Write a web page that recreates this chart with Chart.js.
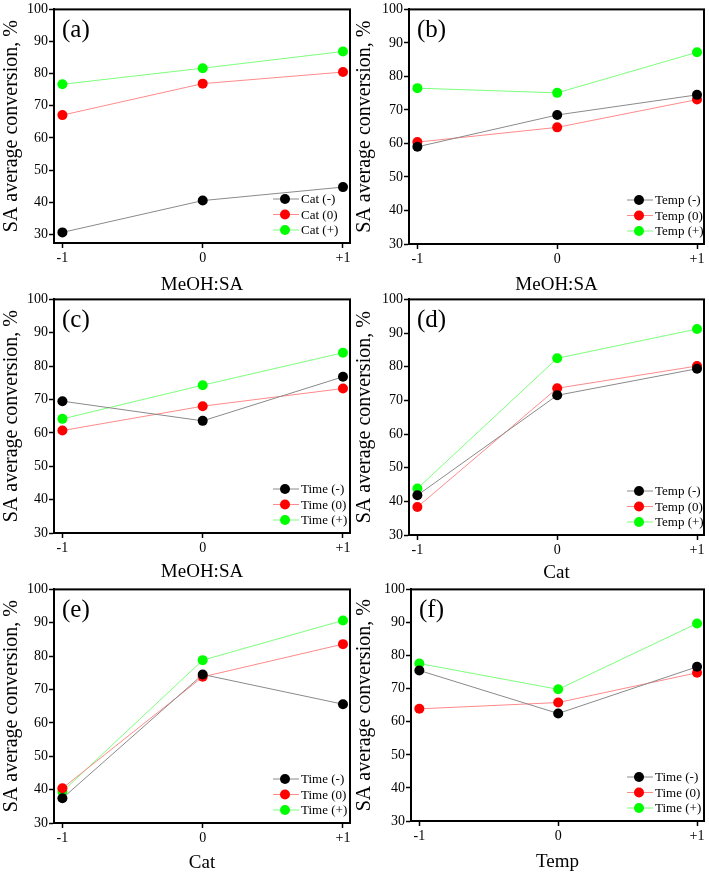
<!DOCTYPE html>
<html>
<head>
<meta charset="utf-8">
<script src="https://cdn.jsdelivr.net/npm/chart.js@4.4.1/dist/chart.umd.min.js"></script>
<style>
  html, body { margin: 0; padding: 0; background: #fff; }
  #page { position: relative; width: 709px; height: 874px; overflow: hidden; background: #fff; }
  #page canvas { position: absolute; }
</style>
</head>
<body>
<div id="page"></div>
<script>
// x levels and tick labels shared by all six panels
const xLevels = [-1, 0, 1];
const xTickLabels = ['-1', '0', '+1'];
const yTickValues = [30, 40, 50, 60, 70, 80, 90, 100];

// (a) MeOH:SA, grouped by Cat
const catMinusA = [30.6, 40.5, 44.7];
const catZeroA = [67.1, 76.9, 80.5];
const catPlusA = [76.7, 81.7, 86.9];

// (b) MeOH:SA, grouped by Temp
const tempMinusB = [59.0, 68.5, 74.5];
const tempZeroB = [60.4, 64.8, 73.1];
const tempPlusB = [76.5, 75.1, 87.2];

// (c) MeOH:SA, grouped by Time
const timeMinusC = [69.5, 63.6, 76.8];
const timeZeroC = [60.7, 68.0, 73.3];
const timePlusC = [64.2, 74.3, 84.0];

// (d) Cat, grouped by Temp
const tempMinusD = [41.8, 71.5, 79.4];
const tempZeroD = [38.3, 73.6, 80.2];
const tempPlusD = [43.8, 82.5, 91.2];

// (e) Cat, grouped by Time
const timeMinusE = [37.4, 74.5, 65.6];
const timeZeroE = [40.4, 73.8, 83.6];
const timePlusE = [39.4, 78.8, 90.7];

// (f) Temp, grouped by Time
const timeMinusF = [75.5, 62.5, 76.6];
const timeZeroF = [63.9, 65.8, 74.8];
const timePlusF = [77.6, 69.8, 89.7];

const SERIF = '"Liberation Serif", "Times New Roman", serif';
const MARK_COLORS = ['#000000', '#ff0000', '#00ff00'];
const LINE_COLORS = ['#8a8a8a', '#ff8a8a', '#7cff7c'];

// box of each panel in page pixels
const panels = [
  { tag: '(a)', xTitle: 'MeOH:SA', factor: 'Cat', series: [catMinusA, catZeroA, catPlusA],
    cx: 0, cy: 0, cw: 355, ch: 300, L: 54, T: 5, R: 352, B: 243, titleY: 285, yMin: 27.3, yPad: 2 },
  { tag: '(b)', xTitle: 'MeOH:SA', factor: 'Temp', series: [tempMinusB, tempZeroB, tempPlusB],
    cx: 355, cy: 0, cw: 354, ch: 300, L: 409, T: 7, R: 704, B: 244, titleY: 285, yMin: 30, yPad: 0 },
  { tag: '(c)', xTitle: 'MeOH:SA', factor: 'Time', series: [timeMinusC, timeZeroC, timePlusC],
    cx: 0, cy: 290, cw: 355, ch: 300, L: 54, T: 296, R: 352, B: 533, titleY: 572, yMin: 30, yPad: 2 },
  { tag: '(d)', xTitle: 'Cat', factor: 'Temp', series: [tempMinusD, tempZeroD, tempPlusD],
    cx: 355, cy: 290, cw: 354, ch: 300, L: 409, T: 297, R: 704, B: 535, titleY: 573, yMin: 30, yPad: 0 },
  { tag: '(e)', xTitle: 'Cat', factor: 'Time', series: [timeMinusE, timeZeroE, timePlusE],
    cx: 0, cy: 580, cw: 355, ch: 294, L: 54, T: 586, R: 352, B: 823, titleY: 863, yMin: 30, yPad: 2 },
  { tag: '(f)', xTitle: 'Temp', factor: 'Time', series: [timeMinusF, timeZeroF, timePlusF],
    cx: 355, cy: 580, cw: 354, ch: 294, L: 411, T: 586, R: 704, B: 821, titleY: 862, yMin: 30, yPad: 0 }
];

// closed box round the plot area
const framePlugin = {
  id: 'frame',
  afterDatasetsDraw(chart) {
    const a = chart.chartArea;
    const ctx = chart.ctx;
    ctx.save();
    ctx.strokeStyle = '#000';
    ctx.lineWidth = 2;
    ctx.strokeRect(a.left, a.top, a.right - a.left, a.bottom - a.top);
    ctx.restore();
  }
};

// legend in the lower right corner: line, dot, text
const insideLegend = {
  id: 'insideLegend',
  afterDraw(chart) {
    const a = chart.chartArea;
    const ctx = chart.ctx;
    const sets = chart.data.datasets;
    const x0 = a.right - 77;
    ctx.save();
    ctx.font = '13px ' + SERIF;
    ctx.textBaseline = 'middle';
    ctx.textAlign = 'left';
    sets.forEach(function (ds, i) {
      const y = a.bottom - 13 - (sets.length - 1 - i) * 15.5;
      ctx.strokeStyle = ds.borderColor;
      ctx.lineWidth = 1;
      ctx.beginPath();
      ctx.moveTo(x0, y);
      ctx.lineTo(x0 + 26, y);
      ctx.stroke();
      ctx.fillStyle = ds.pointBackgroundColor;
      ctx.beginPath();
      ctx.arc(x0 + 12, y, 5, 0, Math.PI * 2);
      ctx.fill();
      ctx.fillStyle = '#000';
      ctx.fillText(ds.label, x0 + 28, y + 1);
    });
    ctx.restore();
  }
};

// panel tag such as (a) in the top left corner
const panelTag = {
  id: 'panelTag',
  afterDraw(chart, args, opts) {
    const a = chart.chartArea;
    const ctx = chart.ctx;
    ctx.save();
    ctx.font = '25px ' + SERIF;
    ctx.fillStyle = '#000';
    ctx.textBaseline = 'middle';
    ctx.fillText(opts.text, a.left + 8, a.top + 21);
    ctx.restore();
  }
};

function buildPanel(p) {
  const canvas = document.createElement('canvas');
  canvas.width = p.cw;
  canvas.height = p.ch;
  canvas.style.left = p.cx + 'px';
  canvas.style.top = p.cy + 'px';
  document.getElementById('page').appendChild(canvas);

  const suffixes = [' (-)', ' (0)', ' (+)'];
  const datasets = p.series.map(function (values, i) {
    return {
      label: p.factor + suffixes[i],
      data: values.map(function (v, j) { return { x: xLevels[j], y: v }; }),
      borderColor: LINE_COLORS[i],
      borderWidth: 1,
      pointBackgroundColor: MARK_COLORS[i],
      pointBorderColor: MARK_COLORS[i],
      pointBorderWidth: 0,
      pointRadius: 5,
      tension: 0,
      clip: false
    };
  });

  const bottomEdge = p.cy + p.ch;

  new Chart(canvas, {
    type: 'line',
    data: { datasets: datasets },
    plugins: [framePlugin, insideLegend, panelTag],
    options: {
      responsive: false,
      animation: false,
      devicePixelRatio: 1,
      layout: {
        padding: { left: 0, top: p.T - p.cy, right: p.cx + p.cw - p.R, bottom: 0 }
      },
      plugins: {
        legend: { display: false },
        tooltip: { enabled: false },
        panelTag: { text: p.tag }
      },
      scales: {
        x: {
          type: 'linear',
          min: -1.06,
          max: 1.05,
          afterBuildTicks: function (scale) {
            scale.ticks = xLevels.map(function (v) { return { value: v }; });
          },
          afterFit: function (scale) {
            scale.height = bottomEdge - p.B;
          },
          ticks: {
            autoSkip: false,
            maxRotation: 0,
            padding: 2,
            color: '#000',
            font: { family: SERIF, size: 14 },
            callback: function (v) {
              const k = xLevels.indexOf(v);
              return k >= 0 ? xTickLabels[k] : '';
            }
          },
          grid: {
            drawOnChartArea: false,
            drawTicks: true,
            tickLength: 5,
            tickColor: '#000',
            tickWidth: 1.5
          },
          border: { display: true, color: '#000', width: 2 },
          title: {
            display: true,
            text: p.xTitle,
            color: '#000',
            font: { family: SERIF, size: 19, lineHeight: 1 },
            padding: { top: 0, bottom: bottomEdge - p.titleY - 9.5 }
          }
        },
        y: {
          type: 'linear',
          min: p.yMin,
          max: 100,
          afterBuildTicks: function (scale) {
            scale.ticks = yTickValues.map(function (v) { return { value: v }; });
          },
          afterFit: function (scale) {
            scale.width = p.L - p.cx;
          },
          ticks: {
            padding: 1,
            color: '#000',
            font: { family: SERIF, size: 14 }
          },
          grid: {
            drawOnChartArea: false,
            drawTicks: true,
            tickLength: 5,
            tickColor: '#000',
            tickWidth: 1.5
          },
          border: { display: true, color: '#000', width: 2 },
          title: {
            display: true,
            text: 'SA average conversion, %',
            color: '#000',
            font: { family: SERIF, size: 20, lineHeight: 1 },
            padding: { top: p.yPad, bottom: 0 }
          }
        }
      }
    }
  });
}

panels.forEach(buildPanel);
</script>
</body>
</html>
